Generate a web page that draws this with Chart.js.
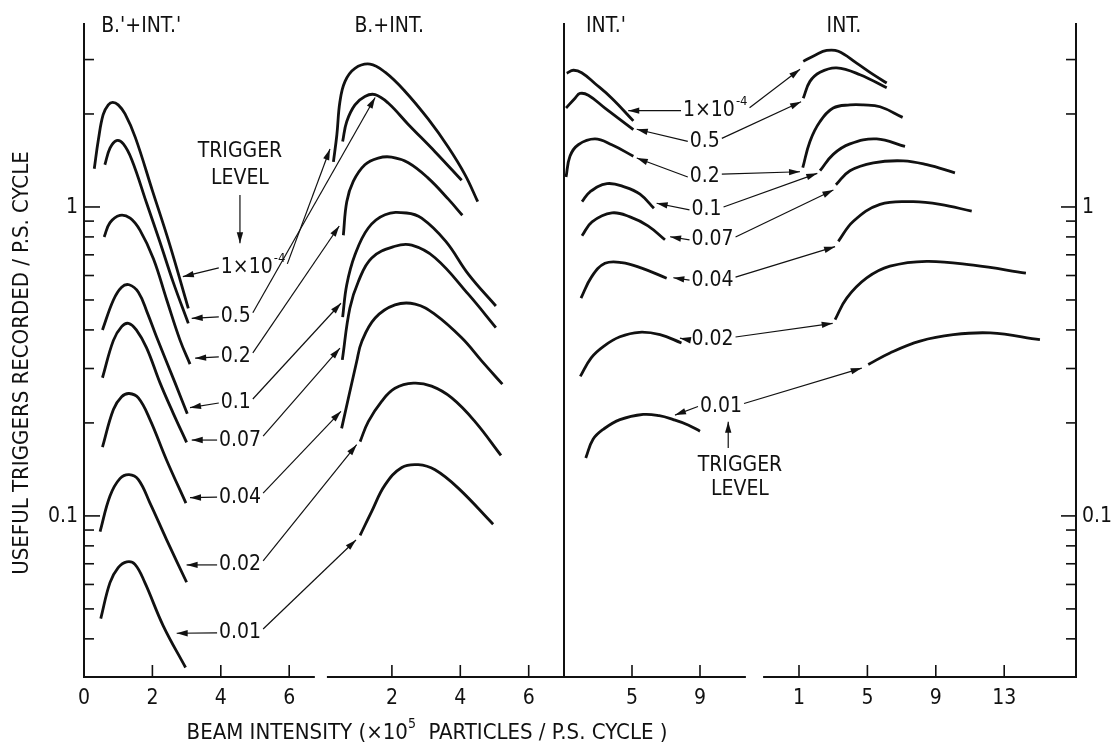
<!DOCTYPE html>
<html>
<head>
<meta charset="utf-8">
<script src="https://cdn.jsdelivr.net/npm/chart.js@4.4.1/dist/chart.umd.min.js"></script>
<style>
  html, body { margin: 0; padding: 0; background: #fff; }
  #wrap { width: 1112px; height: 750px; }
</style>
</head>
<body>
<div id="wrap"><canvas id="chart" width="1112" height="750"></canvas></div>
<script>
// trigger levels, top curve to bottom curve in every panel
const levels = ['1×10^-4', '0.5', '0.2', '0.1', '0.07', '0.04', '0.02', '0.01'];

// [beam intensity, useful triggers / P.S. cycle] per level
const p1Curves = [
  [[0.30,1.33],[0.42,1.65],[0.56,1.99],[0.71,2.14],[0.84,2.18],[1.0,2.14],[1.2,2.0],[1.5,1.68],[2.0,1.13],[2.5,0.76],[3.05,0.47]],
  [[0.61,1.37],[0.76,1.55],[0.95,1.64],[1.15,1.60],[1.4,1.42],[1.83,1.03],[2.22,0.77],[2.61,0.57],[3.05,0.42]],
  [[0.59,0.80],[0.76,0.89],[1.05,0.94],[1.35,0.92],[1.64,0.84],[2.03,0.68],[2.42,0.50],[2.81,0.37],[3.1,0.31]],
  [[0.54,0.40],[0.86,0.50],[1.1,0.55],[1.32,0.56],[1.59,0.53],[1.85,0.455],[2.12,0.38],[2.66,0.27],[3.02,0.214]],
  [[0.54,0.28],[0.86,0.37],[1.1,0.41],[1.3,0.42],[1.53,0.40],[1.83,0.35],[2.22,0.27],[2.6,0.216],[3.0,0.173]],
  [[0.54,0.167],[0.86,0.221],[1.1,0.243],[1.32,0.249],[1.59,0.241],[1.93,0.205],[2.41,0.152],[2.98,0.110]],
  [[0.47,0.089],[0.76,0.116],[1.05,0.132],[1.32,0.136],[1.59,0.131],[1.93,0.110],[2.41,0.084],[3.0,0.061]],
  [[0.49,0.0465],[0.76,0.0608],[1.0,0.068],[1.25,0.071],[1.49,0.0697],[1.78,0.0608],[2.32,0.044],[2.97,0.0323]],
];
const p2Curves = [
  [[0.29,1.40],[0.39,1.71],[0.48,2.19],[0.63,2.55],[0.92,2.81],[1.36,2.90],[1.80,2.73],[2.38,2.37],[3.07,1.92],[3.65,1.56],[4.14,1.27],[4.51,1.04]],
  [[0.56,1.63],[0.68,1.89],[0.92,2.14],[1.21,2.28],[1.51,2.31],[1.89,2.17],[2.48,1.85],[3.26,1.51],[4.04,1.22]],
  [[0.58,0.81],[0.68,1.04],[0.87,1.21],[1.21,1.37],[1.60,1.44],[1.99,1.45],[2.48,1.39],[3.06,1.24],[3.65,1.06],[4.06,0.94]],
  [[0.56,0.44],[0.68,0.56],[0.92,0.70],[1.31,0.855],[1.80,0.944],[2.43,0.956],[2.87,0.92],[3.57,0.775],[4.24,0.605],[5.04,0.478]],
  [[0.55,0.32],[0.77,0.47],[1.02,0.574],[1.41,0.684],[2.09,0.746],[2.58,0.752],[3.26,0.685],[4.24,0.521],[5.04,0.407]],
  [[0.53,0.192],[0.97,0.316],[1.12,0.367],[1.51,0.437],[2.09,0.482],[2.68,0.485],[3.26,0.449],[4.04,0.377],[4.63,0.317],[5.23,0.267]],
  [[1.07,0.174],[1.31,0.202],[1.70,0.235],[2.09,0.259],[2.63,0.269],[3.16,0.263],[3.75,0.241],[4.43,0.202],[5.19,0.157]],
  [[1.07,0.0865],[1.41,0.1035],[1.80,0.126],[2.29,0.1435],[2.77,0.1465],[3.26,0.141],[3.94,0.123],[4.96,0.094]],
];
const p3Curves = [
  [[1.16,2.71],[1.55,2.77],[2.04,2.72],[2.82,2.51],[3.81,2.25],[5.08,1.90]],
  [[1.12,2.09],[1.65,2.25],[1.94,2.33],[2.43,2.30],[3.41,2.09],[5.08,1.78]],
  [[1.12,1.25],[1.35,1.46],[1.84,1.59],[2.82,1.66],[3.81,1.59],[5.08,1.46]],
  [[2.06,1.04],[2.53,1.12],[3.53,1.19],[4.59,1.16],[5.47,1.10],[6.29,0.99]],
  [[2.06,0.807],[2.65,0.895],[3.82,0.957],[4.88,0.929],[5.94,0.869],[6.94,0.783]],
  [[2.0,0.507],[2.63,0.595],[3.41,0.657],[4.39,0.661],[5.57,0.634],[7.04,0.588]],
  [[1.96,0.283],[2.6,0.325],[3.33,0.354],[4.29,0.380],[5.43,0.393],[6.65,0.386],[7.91,0.363]],
  [[2.28,0.154],[2.71,0.177],[3.33,0.191],[4.29,0.205],[5.66,0.213],[6.6,0.211],[7.43,0.205],[8.3,0.197],[9.0,0.188]],
];
const p4Curves = [
  [[1.25,2.96],[1.94,3.10],[2.62,3.21],[3.30,3.19],[4.37,2.92],[5.35,2.68],[6.13,2.52]],
  [[1.25,2.25],[1.64,2.55],[2.23,2.73],[3.20,2.82],[4.57,2.68],[6.13,2.43]],
  [[1.22,1.34],[1.64,1.63],[2.23,1.89],[3.0,2.09],[3.98,2.14],[4.76,2.14],[5.74,2.11],[7.06,1.95]],
  [[2.23,1.31],[3.0,1.48],[3.98,1.60],[5.54,1.66],[7.2,1.57]],
  [[3.16,1.18],[3.98,1.31],[5.35,1.39],[7.1,1.41],[8.47,1.37],[10.12,1.29]],
  [[3.30,0.774],[4.18,0.899],[5.74,1.02],[7.68,1.04],[9.25,1.02],[11.1,0.969]],
  [[3.11,0.432],[3.79,0.507],[4.96,0.589],[6.32,0.643],[8.47,0.667],[11.19,0.648],[14.27,0.611]],
  [[5.05,0.309],[6.32,0.337],[8.08,0.368],[10.02,0.386],[12.19,0.391],[15.09,0.372]],
];

// tick labels
const p1Ticks = [0, 2, 4, 6];
const p2Ticks = [2, 4, 6];
const p3Ticks = [5, 9];
const p4Ticks = [1, 5, 9, 13];
const yMajor = [0.1, 1];
const yMajorLabels = ['0.1', '1'];
const yMinor = [0.04, 0.05, 0.06, 0.07, 0.08, 0.09, 0.2, 0.3, 0.4, 0.5, 0.6, 0.7, 0.8, 0.9, 2, 3];

// level labels and their arrows (left group: B.'+INT.' -> B.+INT., right group: INT.' -> INT.)
const bLabelX = [4.0, 4.0, 4.0, 4.0, 3.95, 3.95, 3.95, 3.95];
const bLabelY = [0.635, 0.441, 0.327, 0.232, 0.176, 0.115, 0.0694, 0.0418];
const bTipL = [[2.89,0.595],[3.15,0.436],[3.25,0.324],[3.10,0.224],[3.15,0.176],[3.10,0.1146],[3.0,0.0694],[2.71,0.0417]];
const bTipR = [[0.19,1.54],[1.51,2.26],[0.46,0.868],[0.51,0.488],[0.48,0.349],[0.51,0.218],[0.97,0.170],[0.95,0.0836]];
const iLabelX = [8.0, 8.4, 8.4, 8.5, 8.5, 8.5, 8.5, 9.0];
const iLabelY = [2.05, 1.63, 1.25, 0.978, 0.782, 0.580, 0.371, 0.226];
const iTipL = [[4.78,2.05],[5.28,1.785],[5.28,1.44],[6.45,1.028],[7.24,0.801],[7.43,0.590],[7.82,0.376],[7.53,0.212]];
const iTipR = [[1.06,2.79],[1.12,2.19],[1.06,1.30],[2.07,1.285],[3.01,1.135],[3.11,0.744],[2.97,0.420],[4.67,0.301]];

const ink = '#111';
const font = size => `${size}px "DejaVu Sans Condensed", "Liberation Sans Narrow", "DejaVu Sans", sans-serif`;

// the shared x axis is split into four panels, each with its own origin and unit length
const panels = [
  { title: "B.'+INT.'", origin: 0,     unit: 34.2, from: 0,    to: 6.75, ticks: p1Ticks, titleAt: 1.67, curves: p1Curves },
  { title: 'B.+INT.',   origin: 239.5, unit: 34.2, from: 0.1,  to: 7.06, ticks: p2Ticks, titleAt: 1.92, curves: p2Curves },
  { title: "INT.'",     origin: 463,   unit: 17,   from: 1,    to: 11.7, ticks: p3Ticks, titleAt: 3.47, curves: p3Curves },
  { title: 'INT.',      origin: 697.9, unit: 17.1, from: -1.1, to: 17.2, ticks: p4Ticks, titleAt: 3.63, curves: p4Curves },
];

const datasets = [];
panels.forEach(p => p.curves.forEach((pts, i) => datasets.push({
  label: p.title + ' ' + levels[i],
  data: pts.map(([v, n]) => ({ x: p.origin + v * p.unit, y: n })),
  borderColor: ink,
  borderWidth: 2.8,
  pointRadius: 0,
  tension: 0.4,
  fill: false,
})));

const frame = {
  id: 'frame',
  afterDraw(chart) {
    const { ctx, chartArea: a } = chart;
    const xs = chart.scales.x, ys = chart.scales.y;
    const X = (p, v) => xs.getPixelForValue(panels[p].origin + v * panels[p].unit);
    const Y = v => ys.getPixelForValue(v);
    ctx.save();
    ctx.strokeStyle = ink;
    ctx.fillStyle = ink;
    const seg = (x1, y1, x2, y2, w) => {
      ctx.lineWidth = w;
      ctx.beginPath(); ctx.moveTo(x1, y1); ctx.lineTo(x2, y2); ctx.stroke();
    };
    const arrow = (x1, y1, x2, y2) => {
      seg(x1, y1, x2, y2, 1.2);
      const t = Math.atan2(y2 - y1, x2 - x1), L = 11, W = 3.2;
      const c = Math.cos(t), s = Math.sin(t);
      ctx.beginPath();
      ctx.moveTo(x2, y2);
      ctx.lineTo(x2 - L * c + W * s, y2 - L * s - W * c);
      ctx.lineTo(x2 - L * c - W * s, y2 - L * s + W * c);
      ctx.closePath(); ctx.fill();
    };
    const text = (str, x, y, align, size = 21) => {
      ctx.font = font(size); ctx.textAlign = align; ctx.textBaseline = 'middle';
      ctx.fillText(str, x, y);
    };
    const label = (str, x, y) => {
      const [base, sup] = str.split('^');
      text(base, x, y, 'left');
      let w = ctx.measureText(base).width;
      if (sup) {
        text(sup, x + w + 1, y - 9, 'left', 13);
        w += 1 + ctx.measureText(sup).width;
      }
      return x + w;
    };

    // frame
    seg(a.left, a.top, a.left, a.bottom + 1, 2);
    seg(X(2, 1), a.top, X(2, 1), a.bottom + 1, 2);
    seg(a.right, a.top, a.right, a.bottom + 1, 2);
    seg(X(0, panels[0].from), a.bottom, X(0, panels[0].to), a.bottom, 2);
    seg(X(1, panels[1].from), a.bottom, X(2, panels[2].to), a.bottom, 2);
    seg(X(3, panels[3].from), a.bottom, a.right, a.bottom, 2);

    // y ticks, both sides, pointing inwards
    yMinor.forEach(v => {
      seg(a.left, Y(v), a.left + 10, Y(v), 1.6);
      seg(a.right - 10, Y(v), a.right, Y(v), 1.6);
    });
    yMajor.forEach((v, i) => {
      seg(a.left, Y(v), a.left + 16, Y(v), 1.6);
      seg(a.right - 15, Y(v), a.right, Y(v), 1.6);
      text(yMajorLabels[i], a.left - 6, Y(v) + 1, 'right');
      text(yMajorLabels[i], a.right + 6, Y(v) + 1, 'left');
    });

    // x ticks and panel titles
    panels.forEach((p, i) => {
      p.ticks.forEach(v => {
        seg(X(i, v), a.bottom, X(i, v), a.bottom - 12, 1.6);
        text(String(v), X(i, v), a.bottom + 22, 'center');
      });
      text(p.title, X(i, p.titleAt), a.top + 4, 'center');
    });

    // axis titles
    ctx.save();
    ctx.translate(a.left - 62, (a.top + a.bottom) / 2 + 13);
    ctx.rotate(-Math.PI / 2);
    text('USEFUL TRIGGERS RECORDED / P.S. CYCLE', 0, 0, 'center', 22);
    ctx.restore();
    const parts = [['BEAM INTENSITY (×10', 22, 0], ['5', 14, -9], ['  PARTICLES / P.S. CYCLE )', 22, 0]];
    let total = 0;
    parts.forEach(([s, z]) => { ctx.font = font(z); total += ctx.measureText(s).width; });
    let cx = 427 - total / 2;
    parts.forEach(([s, z, dy]) => {
      text(s, cx, a.bottom + 56 + dy, 'left', z);
      cx += ctx.measureText(s).width;
    });

    // trigger level labels with arrows
    levels.forEach((s, i) => {
      const lx = X(0, bLabelX[i]), ly = Y(bLabelY[i]);
      const r = label(s, lx, ly);
      arrow(lx - 2, ly, X(0, bTipL[i][0]), Y(bTipL[i][1]));
      arrow(r + 2, ly - 4, X(1, bTipR[i][0]), Y(bTipR[i][1]));
    });
    levels.forEach((s, i) => {
      const lx = X(2, iLabelX[i]), ly = Y(iLabelY[i]);
      const r = label(s, lx, ly);
      arrow(lx - 2, ly, X(2, iTipL[i][0]), Y(iTipL[i][1]));
      arrow(r + 2, ly - 3, X(3, iTipR[i][0]), Y(iTipR[i][1]));
    });

    text('TRIGGER', X(0, 4.56), Y(1.51), 'center');
    text('LEVEL', X(0, 4.56), Y(1.238), 'center');
    arrow(X(0, 4.56), Y(1.094), X(0, 4.56), Y(0.763));
    text('TRIGGER', X(2, 11.35), Y(0.146), 'center');
    text('LEVEL', X(2, 11.35), Y(0.1214), 'center');
    arrow(X(2, 10.66), Y(0.166), X(2, 10.66), Y(0.2019));

    ctx.restore();
  }
};

new Chart(document.getElementById('chart'), {
  type: 'line',
  data: { datasets },
  options: {
    responsive: false,
    animation: false,
    layout: { padding: { left: 84, right: 36, top: 23, bottom: 73 } },
    scales: {
      x: { type: 'linear', display: false, min: 0, max: 992 },
      y: { type: 'logarithmic', display: false, min: 0.0301, max: 3.94 },
    },
    plugins: { legend: { display: false }, tooltip: { enabled: false } },
  },
  plugins: [frame],
});
</script>
</body>
</html>
